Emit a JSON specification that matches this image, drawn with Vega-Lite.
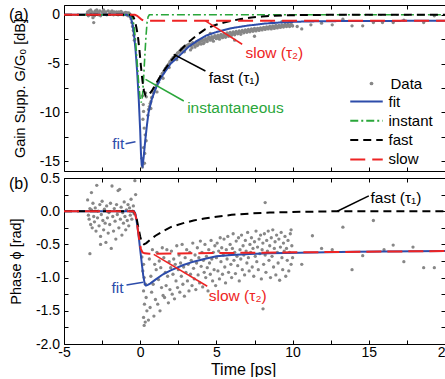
{
"$schema": "https://vega.github.io/schema/vega-lite/v6.json",
"padding": {"left": 8, "top": 4, "right": 0, "bottom": 0},
"spacing": -1,
"config": {
  "font": "Liberation Sans",
  "view": {"stroke": null},
  "axis": {"grid": false, "domainColor": "#000000", "tickColor": "#000000", "labelColor": "#000000", "titleColor": "#000000", "labelFontSize": 14, "titleFontSize": 14.5, "titleFontWeight": "normal", "tickSize": -4, "labelFlush": false, "labelOverlap": false, "labelBound": false, "domainWidth": 1, "tickWidth": 1},
  "legend": {"labelFont": "Liberation Sans", "labelColor": "#000000", "labelFontSize": 15}
},
"resolve": {"scale": {"color": "independent", "strokeDash": "independent", "shape": "independent"}, "legend": {"color": "independent", "strokeDash": "independent", "shape": "independent"}},
"datasets": {
  "a_pts": [
{"t":-3.5,"v":0.1},{"t":-3.45,"v":0.3},{"t":-3.4,"v":-0.1},{"t":-3.35,"v":0.4},{"t":-3.3,"v":0.2},{"t":-3.25,"v":0.5},{"t":-3.2,"v":0.0},{"t":-3.15,"v":0.3},{"t":-3.1,"v":-0.3},{"t":-3.05,"v":-0.8},{"t":-3.0,"v":0.2},{"t":-2.95,"v":0.4},{"t":-2.9,"v":0.1},{"t":-2.85,"v":0.5},{"t":-2.8,"v":0.3},{"t":-2.7,"v":0.2},{"t":-2.65,"v":0.4},{"t":-2.6,"v":-0.1},{"t":-2.5,"v":0.3},{"t":-2.45,"v":0.1},{"t":-2.4,"v":0.5},{"t":-2.3,"v":0.2},{"t":-2.25,"v":0.3},{"t":-2.2,"v":0.0},{"t":-2.1,"v":0.4},{"t":-2.0,"v":0.2},{"t":-1.95,"v":0.1},{"t":-1.9,"v":0.3},{"t":-1.8,"v":0.2},{"t":-1.75,"v":0.0},{"t":-1.7,"v":0.3},{"t":-1.6,"v":0.1},{"t":-1.5,"v":0.2},{"t":-1.45,"v":0.0},{"t":-1.4,"v":0.3},{"t":-1.3,"v":0.1},{"t":-1.2,"v":0.2},{"t":-1.1,"v":0.0},{"t":-1.05,"v":0.2},{"t":-1.0,"v":0.1},{"t":-0.9,"v":0.0},{"t":-0.85,"v":0.2},{"t":-0.8,"v":-0.1},{"t":-0.7,"v":0.1},{"t":-0.65,"v":-0.2},{"t":-0.6,"v":-0.4},{"t":-0.55,"v":-0.8},{"t":-0.5,"v":-1.2},{"t":-0.45,"v":-1.6},
{"t":-3.0,"v":-0.1},{"t":-2.75,"v":0.0},{"t":-2.35,"v":0.3},{"t":-1.85,"v":0.4},{"t":-1.55,"v":0.3},{"t":-1.25,"v":0.35},{"t":-0.95,"v":0.25},{"t":-0.75,"v":0.2},{"t":-0.62,"v":-0.1},
{"t":-0.42,"v":-2.1},{"t":-0.38,"v":-2.6},
{"t":0.15,"v":-8.3},{"t":0.2,"v":-9.2},{"t":0.22,"v":-9.9},{"t":0.18,"v":-10.7},{"t":0.26,"v":-11.6},{"t":0.33,"v":-12.3},{"t":0.39,"v":-12.9},{"t":0.22,"v":-13.6},{"t":0.11,"v":-14.7},{"t":0.18,"v":-15.3},{"t":0.28,"v":-15.2},{"t":0.14,"v":-15.6},{"t":0.3,"v":-14.2},{"t":0.4,"v":-8.4},{"t":0.35,"v":-8.0},
{"t":0.5,"v":-10.3},{"t":0.55,"v":-9.7},{"t":0.6,"v":-9.4},{"t":0.65,"v":-9.1},{"t":0.7,"v":-8.9},{"t":0.75,"v":-8.5},{"t":0.8,"v":-8.4},{"t":0.85,"v":-8.0},{"t":0.9,"v":-7.9},{"t":0.95,"v":-7.6},{"t":1.0,"v":-7.5},{"t":1.05,"v":-7.2},{"t":1.1,"v":-7.2},{"t":1.15,"v":-6.9},{"t":1.2,"v":-6.9},{"t":1.25,"v":-6.6},{"t":1.3,"v":-6.5},{"t":1.35,"v":-6.3},{"t":1.4,"v":-6.3},{"t":1.45,"v":-6.0},{"t":1.5,"v":-6.0},{"t":1.55,"v":-5.8},{"t":1.6,"v":-5.7},{"t":1.65,"v":-5.5},{"t":1.7,"v":-5.5},{"t":1.75,"v":-5.3},{"t":1.8,"v":-5.2},{"t":1.85,"v":-5.1},{"t":1.9,"v":-5.0},{"t":1.95,"v":-4.8},{"t":2.0,"v":-4.8},{"t":2.05,"v":-4.6},{"t":2.1,"v":-4.6},{"t":2.15,"v":-4.4},{"t":2.2,"v":-4.5},{"t":2.25,"v":-4.3},{"t":2.3,"v":-4.2},{"t":2.35,"v":-4.1},{"t":2.4,"v":-4.1},{"t":2.45,"v":-3.9},{"t":2.5,"v":-3.9},{"t":2.55,"v":-3.8},{"t":2.6,"v":-3.7},{"t":2.65,"v":-3.7},{"t":2.7,"v":-3.5},{"t":2.75,"v":-3.6},{"t":2.8,"v":-3.4},{"t":2.85,"v":-3.4},{"t":2.9,"v":-3.3},{"t":2.95,"v":-3.3},{"t":3.0,"v":-3.2},{"t":3.05,"v":-3.25},{"t":3.1,"v":-3.1},{"t":3.15,"v":-3.15},{"t":3.2,"v":-3.0},{"t":3.25,"v":-3.1},
{"t":0.7,"v":-9.6},{"t":1.1,"v":-7.9},{"t":1.5,"v":-6.5},{"t":1.9,"v":-5.4},{"t":2.4,"v":-4.6},{"t":2.9,"v":-3.8},{"t":3.3,"v":-3.6},
{"t":3.3,"v":-3.0},{"t":3.4,"v":-3.4},{"t":3.5,"v":-2.95},{"t":3.6,"v":-3.3},{"t":3.7,"v":-2.75},{"t":3.8,"v":-3.05},{"t":3.9,"v":-2.7},{"t":4.0,"v":-3.0},{"t":4.1,"v":-2.55},{"t":4.2,"v":-2.85},{"t":4.3,"v":-2.45},{"t":4.4,"v":-2.75},{"t":4.5,"v":-2.3},{"t":4.6,"v":-2.6},{"t":4.7,"v":-2.25},{"t":4.8,"v":-2.7},{"t":4.9,"v":-2.15},{"t":5.0,"v":-2.45},{"t":5.1,"v":-2.1},{"t":5.2,"v":-2.5},{"t":5.3,"v":-2.0},{"t":5.4,"v":-2.35},{"t":5.5,"v":-1.95},{"t":5.6,"v":-2.3},{"t":5.7,"v":-1.85},{"t":5.8,"v":-2.2},{"t":5.9,"v":-1.8},{"t":6.0,"v":-2.1},{"t":6.1,"v":-1.75},{"t":6.2,"v":-2.05},{"t":6.3,"v":-1.7},{"t":6.4,"v":-1.95},{"t":6.5,"v":-1.65},{"t":6.6,"v":-2.0},{"t":6.7,"v":-1.6},{"t":6.8,"v":-1.85},{"t":6.9,"v":-1.55},{"t":7.0,"v":-1.8},{"t":7.1,"v":-1.5},{"t":7.2,"v":-1.75},{"t":7.3,"v":-1.45},{"t":7.4,"v":-1.7},{"t":7.5,"v":-1.4},{"t":7.6,"v":-1.65},{"t":7.7,"v":-1.4},{"t":7.8,"v":-1.6},{"t":7.9,"v":-1.35},{"t":8.0,"v":-1.55},{"t":8.1,"v":-1.3},{"t":8.2,"v":-1.5},{"t":8.3,"v":-1.25},{"t":8.4,"v":-1.45},{"t":8.5,"v":-1.2},{"t":8.6,"v":-1.45},{"t":8.7,"v":-1.15},{"t":8.8,"v":-1.4},{"t":8.9,"v":-1.1},{"t":9.0,"v":-1.35},{"t":9.1,"v":-1.1},{"t":9.2,"v":-1.3},{"t":9.3,"v":-1.05},{"t":9.4,"v":-1.25},{"t":9.5,"v":-1.0},{"t":9.6,"v":-1.2},{"t":9.7,"v":-0.95},{"t":9.8,"v":-1.2},{"t":9.9,"v":-1.0},{"t":10.0,"v":-1.15},
{"t":3.35,"v":-3.2},{"t":3.45,"v":-2.85},{"t":3.55,"v":-3.1},{"t":3.65,"v":-2.9},{"t":3.75,"v":-3.15},{"t":3.85,"v":-2.8},{"t":3.95,"v":-2.95},{"t":4.05,"v":-2.7},{"t":4.15,"v":-2.95},{"t":4.25,"v":-2.6},{"t":4.35,"v":-2.6},{"t":4.45,"v":-2.45},{"t":4.55,"v":-2.5},{"t":4.65,"v":-2.4},{"t":4.75,"v":-2.45},{"t":4.85,"v":-2.3},{"t":4.95,"v":-2.35},{"t":5.05,"v":-2.25},{"t":5.15,"v":-2.3},{"t":5.25,"v":-2.2},{"t":5.35,"v":-2.15},{"t":5.45,"v":-2.2},{"t":5.55,"v":-2.1},{"t":5.65,"v":-2.05},{"t":5.75,"v":-2.05},{"t":5.85,"v":-1.95},{"t":5.95,"v":-1.95},{"t":6.05,"v":-1.9},{"t":6.15,"v":-1.9},{"t":6.25,"v":-1.85},{"t":6.35,"v":-1.85},{"t":6.45,"v":-1.8},{"t":6.55,"v":-1.78},{"t":6.65,"v":-1.75},{"t":6.75,"v":-1.72},{"t":6.85,"v":-1.7},{"t":6.95,"v":-1.65},{"t":7.05,"v":-1.65},{"t":7.15,"v":-1.62},{"t":7.25,"v":-1.6},{"t":7.35,"v":-1.55},{"t":7.45,"v":-1.55},{"t":7.55,"v":-1.52},{"t":7.65,"v":-1.5},{"t":7.75,"v":-1.48},{"t":7.85,"v":-1.45},{"t":7.95,"v":-1.42},{"t":8.05,"v":-1.4},{"t":8.15,"v":-1.38},{"t":8.25,"v":-1.35},{"t":8.35,"v":-1.35},{"t":8.45,"v":-1.3},{"t":8.55,"v":-1.3},{"t":8.65,"v":-1.28},{"t":8.75,"v":-1.25},{"t":8.85,"v":-1.25},{"t":8.95,"v":-1.2},{"t":9.05,"v":-1.2},{"t":9.15,"v":-1.18},{"t":9.25,"v":-1.15},{"t":9.35,"v":-1.15},{"t":9.45,"v":-1.12},{"t":9.55,"v":-1.1},{"t":9.65,"v":-1.1},{"t":9.75,"v":-1.08},{"t":9.85,"v":-1.05},{"t":9.95,"v":-1.05},
{"t":4.6,"v":-1.9},{"t":6.2,"v":-2.6},{"t":7.5,"v":-2.2},{"t":8.6,"v":-0.8},{"t":9.3,"v":-0.7},
{"t":10.3,"v":-1.2},{"t":10.6,"v":-1.45},{"t":11.2,"v":-1.03},{"t":11.9,"v":-0.86},{"t":12.6,"v":-1.03},{"t":13.3,"v":-0.45},{"t":13.9,"v":-1.13},{"t":14.6,"v":-1.13},{"t":15.3,"v":-0.79},{"t":15.9,"v":-0.79},{"t":16.6,"v":-0.79},{"t":17.3,"v":-0.55},{"t":18.6,"v":-0.79},{"t":19.3,"v":-0.1}
  ],
  "a_fit": [{"t":-5,"v":0},{"t":-0.9,"v":0},{"t":-0.7,"v":-0.08},{"t":-0.6,"v":-0.35},{"t":-0.5,"v":-1.0},{"t":-0.4,"v":-2.1},{"t":-0.3,"v":-3.7},{"t":-0.2,"v":-5.8},{"t":-0.1,"v":-8.5},{"t":0,"v":-11.9},{"t":0.05,"v":-14.2},{"t":0.1,"v":-15.4},{"t":0.15,"v":-15.5},{"t":0.22,"v":-14.7},{"t":0.33,"v":-12.9},{"t":0.45,"v":-11.2},{"t":0.55,"v":-10.0},{"t":0.75,"v":-8.7},{"t":1.0,"v":-7.6},{"t":1.3,"v":-6.6},{"t":1.6,"v":-5.9},{"t":2.0,"v":-5.0},{"t":2.4,"v":-4.45},{"t":2.7,"v":-4.0},{"t":3.2,"v":-3.25},{"t":3.8,"v":-2.6},{"t":4.3,"v":-2.15},{"t":4.9,"v":-1.82},{"t":5.5,"v":-1.56},{"t":6.0,"v":-1.37},{"t":7.0,"v":-1.12},{"t":8.2,"v":-0.9},{"t":9.2,"v":-0.79},{"t":10.3,"v":-0.71},{"t":12,"v":-0.66},{"t":15,"v":-0.63},{"t":20,"v":-0.62}],
  "a_instant": [{"t":-5,"v":0},{"t":-0.6,"v":0},{"t":-0.5,"v":-0.3},{"t":-0.4,"v":-1.2},{"t":-0.3,"v":-2.8},{"t":-0.2,"v":-4.9},{"t":-0.1,"v":-7.0},{"t":0,"v":-8.6},{"t":0.07,"v":-9.0},{"t":0.15,"v":-8.3},{"t":0.22,"v":-6.6},{"t":0.3,"v":-4.3},{"t":0.38,"v":-2.2},{"t":0.45,"v":-0.8},{"t":0.52,"v":-0.2},{"t":0.6,"v":0},{"t":20,"v":0}],
  "a_fast": [{"t":-5,"v":0},{"t":-0.6,"v":0},{"t":-0.45,"v":-0.2},{"t":-0.35,"v":-0.6},{"t":-0.25,"v":-1.3},{"t":-0.15,"v":-2.2},{"t":-0.05,"v":-3.6},{"t":0.05,"v":-5.3},{"t":0.15,"v":-6.8},{"t":0.25,"v":-7.8},{"t":0.35,"v":-8.3},{"t":0.45,"v":-8.35},{"t":0.55,"v":-8.2},{"t":0.76,"v":-7.8},{"t":1.09,"v":-6.9},{"t":1.5,"v":-5.85},{"t":2.0,"v":-4.75},{"t":2.5,"v":-3.85},{"t":3.0,"v":-3.05},{"t":3.4,"v":-2.5},{"t":3.8,"v":-2.0},{"t":4.25,"v":-1.5},{"t":4.7,"v":-1.18},{"t":5.1,"v":-0.96},{"t":5.5,"v":-0.8},{"t":6.0,"v":-0.62},{"t":6.6,"v":-0.44},{"t":7.3,"v":-0.28},{"t":8.0,"v":-0.18},{"t":8.8,"v":-0.1},{"t":10,"v":-0.04},{"t":12,"v":-0.01},{"t":14,"v":0},{"t":20,"v":0}],
  "a_slow": [{"t":-5,"v":0},{"t":-0.35,"v":0},{"t":-0.2,"v":-0.1},{"t":-0.05,"v":-0.3},{"t":0.1,"v":-0.5},{"t":0.25,"v":-0.62},{"t":20,"v":-0.62}],
  "a_leads": [{"t":4.28,"v":-0.62,"t2":6.69,"v2":-3.02,"series":"slow"},{"t":2.2,"v":-4.05,"t2":4.28,"v2":-5.76,"series":"fast"},{"t":0.35,"v":-6.61,"t2":2.86,"v2":-8.83,"series":"instant"},{"t":-0.96,"v":-13.2,"t2":-0.31,"v2":-13.0,"series":"fit"}],
  "a_labels": [{"t":6.91,"v":-3.88,"label":"slow (τ₂)","series":"slow"},{"t":4.5,"v":-6.5,"label":"fast (τ₁)","series":"fast"},{"t":3.08,"v":-9.52,"label":"instantaneous","series":"instant"},{"t":-1.84,"v":-13.27,"label":"fit","series":"fit"}],
  "b_pts": [
{"t":-3.45,"v":0.17},{"t":-3.4,"v":-0.06},{"t":-3.35,"v":-0.12},{"t":-3.3,"v":0.04},{"t":-3.25,"v":-0.2},{"t":-3.2,"v":0.02},{"t":-3.15,"v":-0.25},{"t":-3.1,"v":0.12},{"t":-3.05,"v":-0.08},{"t":-3.0,"v":-0.16},{"t":-2.95,"v":0.05},{"t":-2.9,"v":-0.3},{"t":-2.85,"v":0.39},{"t":-2.8,"v":-0.1},{"t":-2.75,"v":0.0},{"t":-2.7,"v":-0.22},{"t":-2.65,"v":0.1},{"t":-2.6,"v":-0.38},{"t":-2.55,"v":-0.05},{"t":-2.5,"v":0.15},{"t":-2.45,"v":-0.14},{"t":-2.4,"v":-0.28},{"t":-2.35,"v":0.03},{"t":-2.3,"v":-0.18},{"t":-2.25,"v":-0.47},{"t":-2.2,"v":0.08},{"t":-2.15,"v":-0.1},{"t":-2.1,"v":-0.33},{"t":-2.05,"v":-0.02},{"t":-2.0,"v":-0.2},{"t":-1.95,"v":0.12},{"t":-1.9,"v":-0.56},{"t":-1.85,"v":0.38},{"t":-1.8,"v":-0.08},{"t":-1.75,"v":-0.3},{"t":-1.7,"v":0.04},{"t":-1.65,"v":-0.15},{"t":-1.6,"v":-0.42},{"t":-1.55,"v":0.1},{"t":-1.5,"v":-0.05},{"t":-1.45,"v":0.31},{"t":-1.4,"v":-0.25},{"t":-1.35,"v":0.33},{"t":-1.3,"v":-0.12},{"t":-1.25,"v":0.06},{"t":-1.2,"v":-0.36},{"t":-1.15,"v":-0.02},{"t":-1.1,"v":-0.18},{"t":-1.05,"v":0.14},{"t":-1.0,"v":-0.08},{"t":-0.95,"v":-0.28},{"t":-0.9,"v":0.02},{"t":-0.85,"v":-0.14},{"t":-0.8,"v":0.1},{"t":-0.75,"v":-0.22},{"t":-0.7,"v":0.05},{"t":-0.65,"v":-0.06},{"t":-0.6,"v":0.18},{"t":-0.55,"v":-0.12},{"t":-0.5,"v":0.0},{"t":-0.45,"v":0.08},{"t":-0.4,"v":-0.04},{"t":-0.35,"v":0.46},{"t":-0.3,"v":0.25},{"t":-3.3,"v":-0.64},{"t":-2.6,"v":-0.5},{"t":-3.2,"v":0.28},
{"t":0.11,"v":-0.69},{"t":0.22,"v":-0.8},{"t":0.17,"v":-0.9},{"t":0.26,"v":-1.0},{"t":0.35,"v":-1.1},{"t":0.22,"v":-1.2},{"t":0.39,"v":-1.3},{"t":0.28,"v":-1.4},{"t":0.44,"v":-1.5},{"t":0.22,"v":-1.6},{"t":0.33,"v":-1.67},{"t":0.54,"v":-1.64},{"t":0.26,"v":-1.72},
{"t":0.6,"v":-0.72},{"t":0.65,"v":-1.45},{"t":0.7,"v":-0.98},{"t":0.75,"v":-1.22},{"t":0.8,"v":-0.58},{"t":0.85,"v":-1.1},{"t":0.9,"v":-1.58},{"t":0.95,"v":-0.8},{"t":1.0,"v":-1.33},{"t":1.05,"v":-0.88},{"t":1.1,"v":-0.62},{"t":1.15,"v":-1.4},{"t":1.2,"v":-1.03},{"t":1.25,"v":-0.75},{"t":1.3,"v":-1.5},{"t":1.35,"v":-0.85},{"t":1.4,"v":-1.15},{"t":1.45,"v":-0.55},{"t":1.5,"v":-1.27},
{"t":1.55,"v":-0.7},{"t":1.6,"v":-1.3},{"t":1.65,"v":-0.92},{"t":1.7,"v":-1.12},{"t":1.75,"v":-0.58},{"t":1.8,"v":-0.98},{"t":1.85,"v":-1.38},{"t":1.9,"v":-0.76},{"t":1.95,"v":-1.18},{"t":2.0,"v":-0.85},{"t":2.05,"v":-0.6},{"t":2.1,"v":-1.25},{"t":2.15,"v":-0.95},{"t":2.2,"v":-0.72},{"t":2.25,"v":-1.32},{"t":2.3,"v":-0.8},{"t":2.35,"v":-1.05},{"t":2.4,"v":-0.52},{"t":2.45,"v":-1.15},{"t":2.5,"v":-0.88},
{"t":2.55,"v":-0.66},{"t":2.6,"v":-1.22},{"t":2.65,"v":-0.78},{"t":2.7,"v":-0.98},{"t":2.75,"v":-0.5},{"t":2.8,"v":-1.1},{"t":2.85,"v":-0.84},{"t":2.9,"v":-1.28},{"t":2.95,"v":-0.7},{"t":3.0,"v":-0.92},{"t":3.05,"v":-0.58},{"t":3.1,"v":-1.05},{"t":3.15,"v":-0.8},{"t":3.2,"v":-1.2},{"t":3.25,"v":-0.62},{"t":3.3,"v":-0.95},{"t":3.35,"v":-0.74},{"t":3.4,"v":-1.12},{"t":3.45,"v":-0.48},{"t":3.5,"v":-0.86},
{"t":3.55,"v":-1.02},{"t":3.6,"v":-0.66},{"t":3.65,"v":-1.18},{"t":3.7,"v":-0.78},{"t":3.75,"v":-0.55},{"t":3.8,"v":-0.96},{"t":3.85,"v":-0.7},{"t":3.9,"v":-1.08},{"t":3.95,"v":-0.45},{"t":4.0,"v":-0.83},{"t":4.05,"v":-0.62},{"t":4.1,"v":-1.14},{"t":4.15,"v":-0.74},{"t":4.2,"v":-0.92},{"t":4.25,"v":-0.5},{"t":4.3,"v":-1.0},{"t":4.35,"v":-0.68},{"t":4.4,"v":-0.85},{"t":4.45,"v":-1.2},{"t":4.5,"v":-0.58},
{"t":4.55,"v":-0.78},{"t":4.6,"v":-0.95},{"t":4.65,"v":-0.44},{"t":4.7,"v":-0.72},{"t":4.75,"v":-1.05},{"t":4.8,"v":-0.62},{"t":4.85,"v":-0.88},{"t":4.9,"v":-0.52},{"t":4.95,"v":-1.12},{"t":5.0,"v":-0.7},
{"t":5.05,"v":-0.48},{"t":5.1,"v":-0.9},{"t":5.15,"v":-0.6},{"t":5.2,"v":-1.02},{"t":5.25,"v":-0.4},{"t":5.3,"v":-0.76},{"t":5.35,"v":-0.55},{"t":5.4,"v":-0.95},{"t":5.45,"v":-0.66},{"t":5.5,"v":-0.42},{"t":5.55,"v":-0.84},{"t":5.6,"v":-1.08},{"t":5.65,"v":-0.58},{"t":5.7,"v":-0.72},{"t":5.75,"v":-0.38},{"t":5.8,"v":-0.92},{"t":5.85,"v":-0.64},{"t":5.9,"v":-0.5},{"t":5.95,"v":-0.8},{"t":6.0,"v":-1.0},
{"t":6.05,"v":-0.56},{"t":6.1,"v":-0.34},{"t":6.15,"v":-0.74},{"t":6.2,"v":-0.62},{"t":6.25,"v":-0.94},{"t":6.3,"v":-0.45},{"t":6.35,"v":-0.68},{"t":6.4,"v":-0.82},{"t":6.45,"v":-0.4},{"t":6.5,"v":-1.05},{"t":6.55,"v":-0.58},{"t":6.6,"v":-0.72},{"t":6.65,"v":-0.36},{"t":6.7,"v":-0.88},{"t":6.75,"v":-0.52},{"t":6.8,"v":-0.66},{"t":6.85,"v":-0.96},{"t":6.9,"v":-0.44},{"t":6.95,"v":-0.6},{"t":7.0,"v":-0.78},
{"t":7.05,"v":-0.32},{"t":7.1,"v":-0.7},{"t":7.15,"v":-0.9},{"t":7.2,"v":-0.5},{"t":7.25,"v":-0.62},{"t":7.3,"v":-0.4},{"t":7.35,"v":-0.84},{"t":7.4,"v":-0.56},{"t":7.45,"v":-0.98},{"t":7.5,"v":-0.46},{"t":7.55,"v":-0.68},{"t":7.6,"v":-0.3},{"t":7.65,"v":-0.76},{"t":7.7,"v":-0.54},{"t":7.75,"v":-0.88},{"t":7.8,"v":-0.42},{"t":7.85,"v":-0.64},{"t":7.9,"v":-0.36},{"t":7.95,"v":-1.02},{"t":8.0,"v":-0.58},
{"t":8.05,"v":-0.48},{"t":8.1,"v":-0.8},{"t":8.15,"v":-0.34},{"t":8.2,"v":-0.66},{"t":8.25,"v":-0.92},{"t":8.3,"v":-0.44},{"t":8.35,"v":-0.6},{"t":8.4,"v":-0.3},{"t":8.45,"v":-0.74},{"t":8.5,"v":-0.52},{"t":8.55,"v":-1.0},{"t":8.6,"v":-0.4},{"t":8.65,"v":-0.68},{"t":8.7,"v":-0.28},{"t":8.75,"v":-0.84},{"t":8.8,"v":-0.56},{"t":8.85,"v":-0.46},{"t":8.9,"v":-0.96},{"t":8.95,"v":-0.36},{"t":9.0,"v":-0.62},
{"t":9.05,"v":-0.78},{"t":9.1,"v":-0.42},{"t":9.15,"v":-1.04},{"t":9.2,"v":-0.54},{"t":9.25,"v":-0.32},{"t":9.3,"v":-0.7},{"t":9.35,"v":-0.88},{"t":9.4,"v":-0.48},{"t":9.45,"v":-0.6},{"t":9.5,"v":-0.38},{"t":9.55,"v":-0.98},{"t":9.6,"v":-0.56},{"t":9.65,"v":-0.74},{"t":9.7,"v":-0.44},{"t":9.75,"v":-0.9},{"t":9.8,"v":-0.62},{"t":9.85,"v":-0.34},{"t":9.9,"v":-0.8},{"t":9.95,"v":-0.52},{"t":10.0,"v":-0.7},
{"t":8.2,"v":0.13},{"t":8.06,"v":-1.47},{"t":9.9,"v":-0.28},
{"t":10.6,"v":-0.8},{"t":11.3,"v":-0.37},{"t":11.9,"v":-0.56},{"t":12.6,"v":-0.58},{"t":13.3,"v":-0.24},{"t":13.9,"v":-0.88},{"t":14.6,"v":-0.67},{"t":15.3,"v":-0.14},{"t":16.0,"v":-0.58},{"t":16.6,"v":-0.51},{"t":17.3,"v":-0.76},{"t":17.9,"v":-0.54},{"t":18.6,"v":-0.85},{"t":19.3,"v":-0.85}
  ],
  "b_fit": [{"t":-5,"v":0},{"t":-0.4,"v":0},{"t":-0.3,"v":-0.05},{"t":-0.2,"v":-0.2},{"t":-0.1,"v":-0.38},{"t":0,"v":-0.58},{"t":0.1,"v":-0.78},{"t":0.2,"v":-0.97},{"t":0.3,"v":-1.1},{"t":0.38,"v":-1.12},{"t":0.5,"v":-1.11},{"t":0.65,"v":-1.09},{"t":1.0,"v":-1.03},{"t":1.5,"v":-0.95},{"t":2.0,"v":-0.89},{"t":2.83,"v":-0.81},{"t":3.5,"v":-0.76},{"t":4.2,"v":-0.72},{"t":5.0,"v":-0.68},{"t":6.0,"v":-0.66},{"t":7.2,"v":-0.645},{"t":8.5,"v":-0.635},{"t":10.5,"v":-0.625},{"t":14,"v":-0.61},{"t":20,"v":-0.6}],
  "b_fast": [{"t":-5,"v":0},{"t":-0.45,"v":0},{"t":-0.3,"v":-0.05},{"t":-0.2,"v":-0.15},{"t":-0.1,"v":-0.27},{"t":0,"v":-0.38},{"t":0.1,"v":-0.47},{"t":0.25,"v":-0.5},{"t":0.4,"v":-0.48},{"t":0.65,"v":-0.43},{"t":1.0,"v":-0.37},{"t":1.5,"v":-0.3},{"t":2.0,"v":-0.24},{"t":2.83,"v":-0.18},{"t":3.5,"v":-0.14},{"t":4.2,"v":-0.11},{"t":5.0,"v":-0.085},{"t":6.0,"v":-0.055},{"t":7.2,"v":-0.035},{"t":8.5,"v":-0.02},{"t":10.5,"v":-0.01},{"t":13,"v":0},{"t":20,"v":0}],
  "b_slow": [{"t":-5,"v":0},{"t":-0.45,"v":0},{"t":-0.35,"v":-0.03},{"t":-0.25,"v":-0.12},{"t":-0.15,"v":-0.28},{"t":-0.05,"v":-0.45},{"t":0.05,"v":-0.57},{"t":0.15,"v":-0.62},{"t":0.3,"v":-0.635},{"t":0.6,"v":-0.64},{"t":10,"v":-0.62},{"t":20,"v":-0.6}],
  "b_leads": [{"t":15.0,"v":0.23,"t2":12.93,"v2":0.0,"series":"fast"},{"t":-0.9,"v":-1.11,"t2":0.2,"v2":-1.07,"series":"fit"},{"t":4.4,"v":-1.13,"t2":0.89,"v2":-0.65,"series":"slow"}],
  "b_labels": [{"t":15.11,"v":0.2,"label":"fast (τ₁)","series":"fast"},{"t":-1.88,"v":-1.15,"label":"fit","series":"fit"},{"t":4.5,"v":-1.28,"label":"slow (τ₂)","series":"slow"}],
  "one": [{"n":1}]
},
"vconcat": [
{
  "width": 381, "height": 166,
  "resolve": {"axis": {"x": "independent", "y": "independent"}},
  "layer": [
    {"data": {"name": "a_pts"}, "mark": {"type": "point", "filled": true, "size": 11, "opacity": 1, "color": "#878787"},
     "encoding": {
       "x": {"field": "t", "type": "quantitative", "scale": {"domain": [-5, 20], "nice": false, "zero": false}, "axis": {"orient": "bottom", "values": [-5,-2.5,0,2.5,5,7.5,10,12.5,15,17.5,20], "labels": false, "title": null}},
       "y": {"field": "v", "type": "quantitative", "scale": {"domain": [-16, 1], "nice": false, "zero": false}, "axis": {"orient": "left", "values": [-15,-12.5,-10,-7.5,-5,-2.5,0], "labelExpr": "datum.value % 5 === 0 ? toString(datum.value) : ''", "labelPadding": 8.5, "title": "Gain Supp.  G/G₀ [dB]", "titlePadding": 12}},
       "shape": {"datum": "Data", "scale": {"domain": ["Data"], "range": ["circle"]},
         "legend": {"orient": "none", "legendX": 300, "legendY": 71, "title": null, "symbolSize": 14, "symbolFillColor": "#878787", "symbolStrokeWidth": 0, "labelOffset": 11.5}}
     }},
    {"data": {"name": "a_fit"}, "mark": {"type": "line", "strokeWidth": 2},
     "encoding": {
       "x": {"field": "t", "type": "quantitative", "axis": {"orient": "top", "values": [-5,-2.5,0,2.5,5,7.5,10,12.5,15,17.5,20], "labels": false, "title": null}},
       "y": {"field": "v", "type": "quantitative", "axis": {"orient": "right", "values": [-15,-12.5,-10,-7.5,-5,-2.5,0], "labels": false, "title": null}},
       "color": {"datum": "fit", "title": null, "scale": {"domain": ["fit","instant","fast","slow"], "range": ["#2d4caa","#2aa63a","#000000","#ee2424"]},
         "legend": {"orient": "none", "legendX": 295, "legendY": 89, "title": null, "symbolType": "M-2.5,0H2.5", "symbolSize": 169, "symbolStrokeWidth": 2, "rowPadding": 3.3, "labelOffset": 14.5}},
       "strokeDash": {"datum": "fit", "title": null, "scale": {"domain": ["fit","instant","fast","slow"], "range": [[1,0],[8,3,2,3],[8,5],[15,7]]},
         "legend": {"orient": "none", "legendX": 295, "legendY": 89, "title": null, "symbolType": "M-2.5,0H2.5", "symbolSize": 169, "symbolStrokeWidth": 2, "rowPadding": 3.3, "labelOffset": 14.5}}}},
    {"data": {"name": "a_instant"}, "mark": {"type": "line", "strokeWidth": 1.6},
     "encoding": {"x": {"field": "t", "type": "quantitative", "axis": null}, "y": {"field": "v", "type": "quantitative", "axis": null}, "color": {"datum": "instant", "title": null}, "strokeDash": {"datum": "instant", "title": null}}},
    {"data": {"name": "a_fast"}, "mark": {"type": "line", "strokeWidth": 2},
     "encoding": {"x": {"field": "t", "type": "quantitative", "axis": null}, "y": {"field": "v", "type": "quantitative", "axis": null}, "color": {"datum": "fast", "title": null}, "strokeDash": {"datum": "fast", "title": null}}},
    {"data": {"name": "a_slow"}, "mark": {"type": "line", "strokeWidth": 2},
     "encoding": {"x": {"field": "t", "type": "quantitative", "axis": null}, "y": {"field": "v", "type": "quantitative", "axis": null}, "color": {"datum": "slow", "title": null}, "strokeDash": {"datum": "slow", "title": null}}},
    {"data": {"name": "a_leads"}, "mark": {"type": "rule", "strokeWidth": 1.5},
     "encoding": {"x": {"field": "t", "type": "quantitative", "axis": null}, "y": {"field": "v", "type": "quantitative", "axis": null}, "x2": {"field": "t2"}, "y2": {"field": "v2"}, "color": {"field": "series", "type": "nominal", "title": null}}},
    {"data": {"name": "a_labels"}, "mark": {"type": "text", "align": "left", "baseline": "middle", "fontSize": 15.5},
     "encoding": {"x": {"field": "t", "type": "quantitative", "axis": null}, "y": {"field": "v", "type": "quantitative", "axis": null}, "text": {"field": "label"}, "color": {"field": "series", "type": "nominal", "title": null}}},
    {"data": {"name": "one"}, "mark": {"type": "text", "text": "(a)", "align": "left", "baseline": "middle", "fontSize": 16, "color": "#000000"},
     "encoding": {"x": {"datum": -8.61, "type": "quantitative", "axis": null}, "y": {"datum": 0, "type": "quantitative", "axis": null}}}
  ]
},
{
  "width": 381, "height": 166,
  "resolve": {"axis": {"x": "independent", "y": "independent"}},
  "layer": [
    {"data": {"name": "b_pts"}, "mark": {"type": "point", "filled": true, "size": 11, "opacity": 1, "color": "#878787"},
     "encoding": {
       "x": {"field": "t", "type": "quantitative", "scale": {"domain": [-5, 20], "nice": false, "zero": false}, "axis": {"orient": "bottom", "values": [-5,-2.5,0,2.5,5,7.5,10,12.5,15,17.5,20], "labelExpr": "datum.value % 5 === 0 ? toString(datum.value) : ''", "labelPadding": 5, "title": "Time [ps]", "titleFontSize": 16, "titlePadding": 2, "titleX": 179}},
       "y": {"field": "v", "type": "quantitative", "scale": {"domain": [-2, 0.5], "nice": false, "zero": false}, "axis": {"orient": "left", "values": [-2,-1.75,-1.5,-1.25,-1,-0.75,-0.5,-0.25,0,0.25,0.5], "labelExpr": "abs(datum.value*2 - round(datum.value*2)) < 0.001 ? replace(format(datum.value, '.1f'), '\u2212', '-') : ''", "labelPadding": 8.5, "title": "Phase ϕ [rad]", "titlePadding": 12}}
     }},
    {"data": {"name": "b_fit"}, "mark": {"type": "line", "strokeWidth": 2},
     "encoding": {
       "x": {"field": "t", "type": "quantitative", "axis": {"orient": "top", "values": [-5,-2.5,0,2.5,5,7.5,10,12.5,15,17.5,20], "labels": false, "title": null}},
       "y": {"field": "v", "type": "quantitative", "axis": {"orient": "right", "values": [-2,-1.75,-1.5,-1.25,-1,-0.75,-0.5,-0.25,0,0.25,0.5], "labels": false, "title": null}},
       "color": {"datum": "fit", "legend": null, "scale": {"domain": ["fit","instant","fast","slow"], "range": ["#2d4caa","#2aa63a","#000000","#ee2424"]}}}},
    {"data": {"name": "b_fast"}, "mark": {"type": "line", "strokeWidth": 2, "strokeDash": [8,5]},
     "encoding": {"x": {"field": "t", "type": "quantitative", "axis": null}, "y": {"field": "v", "type": "quantitative", "axis": null}, "color": {"datum": "fast", "legend": null}}},
    {"data": {"name": "b_slow"}, "mark": {"type": "line", "strokeWidth": 2, "strokeDash": [15,6]},
     "encoding": {"x": {"field": "t", "type": "quantitative", "axis": null}, "y": {"field": "v", "type": "quantitative", "axis": null}, "color": {"datum": "slow", "legend": null}}},
    {"data": {"name": "b_leads"}, "mark": {"type": "rule", "strokeWidth": 1.5},
     "encoding": {"x": {"field": "t", "type": "quantitative", "axis": null}, "y": {"field": "v", "type": "quantitative", "axis": null}, "x2": {"field": "t2"}, "y2": {"field": "v2"}, "color": {"field": "series", "type": "nominal", "legend": null}}},
    {"data": {"name": "b_labels"}, "mark": {"type": "text", "align": "left", "baseline": "middle", "fontSize": 15.5},
     "encoding": {"x": {"field": "t", "type": "quantitative", "axis": null}, "y": {"field": "v", "type": "quantitative", "axis": null}, "text": {"field": "label"}, "color": {"field": "series", "type": "nominal", "legend": null}}},
    {"data": {"name": "one"}, "mark": {"type": "text", "text": "(b)", "align": "left", "baseline": "middle", "fontSize": 16, "color": "#000000"},
     "encoding": {"x": {"datum": -8.61, "type": "quantitative", "axis": null}, "y": {"datum": 0.41, "type": "quantitative", "axis": null}}}
  ]
}
]
}
